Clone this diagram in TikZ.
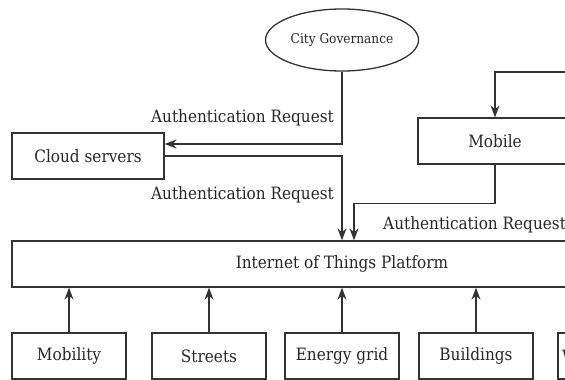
\documentclass[tikz,border=0pt]{standalone}
\usepackage{fontspec}
\setmainfont{DejaVu Serif Condensed}
\usetikzlibrary{shapes,arrows.meta,positioning,calc}

\begin{document}
\begin{tikzpicture}[x=1pt, y=-1pt, >={Stealth[length=12pt,width=9pt]}]
        % Styles
        \tikzstyle{box} = [rectangle, draw=black!80, line width=1.3pt, minimum height=46pt, inner sep=0pt, text=black!85, font=\fontsize{17}{19}\selectfont]
        \tikzstyle{actor} = [ellipse, draw=black!80, line width=1.3pt, minimum width=153pt, minimum height=62pt, inner sep=0pt, text=black!85, font=\fontsize{13.5}{15}\selectfont]
        \tikzstyle{tag} = [inner sep=0pt, text=black!85, font=\fontsize{17}{19}\selectfont]
        \tikzstyle{line} = [draw=black!80, ->, line width=1.3pt]

        \useasboundingbox (0,0) rectangle (565,380);
        \clip (0,0) rectangle (565,380);

        % Nodes
        \node [actor] (gov) at (342,40) {City Governance};
        \node [box, minimum width=152pt] (cloud) at (88,156) {Cloud servers};
        \node [box, minimum width=154pt] (mobile) at (495,141) {Mobile};
        \node [box, minimum width=660pt] (iot) at (342,264) {Internet of Things Platform};
        \coordinate (ext) at (600,72);

        \node [box, minimum width=114pt] (mobility) at (69,356) {Mobility};
        \node [box, minimum width=114pt] (streets) at (209,356) {Streets};
        \node [box, minimum width=114pt] (energy) at (342,356) {Energy grid};
        \node [box, minimum width=114pt] (buildings) at (476,356) {Buildings};
        \node [box, text width=106pt, align=left, inner xsep=4pt] (water) at (615,356) {Water};

        \node [tag, anchor=east] (req1) at (334,118) {Authentication Request};
        \node [tag, anchor=east] (req2) at (334,195) {Authentication Request};
        \node [tag, anchor=west] (req3) at (383,225) {Authentication Request};

        % Edges
        \path [line] (gov.south) |- ([yshift=12pt]cloud.east);
        \path [line] (cloud.east) -| (iot.north);
        \path [line] (ext) -| (mobile.north);
        \path [line] (mobile.south) -- ++(0,39) -| ([xshift=12pt]iot.north);
        \foreach \n in {mobility,streets,energy,buildings}
            \path [line] (\n.north) -- (\n.north |- iot.south);

    \end{tikzpicture}
\end{document}
